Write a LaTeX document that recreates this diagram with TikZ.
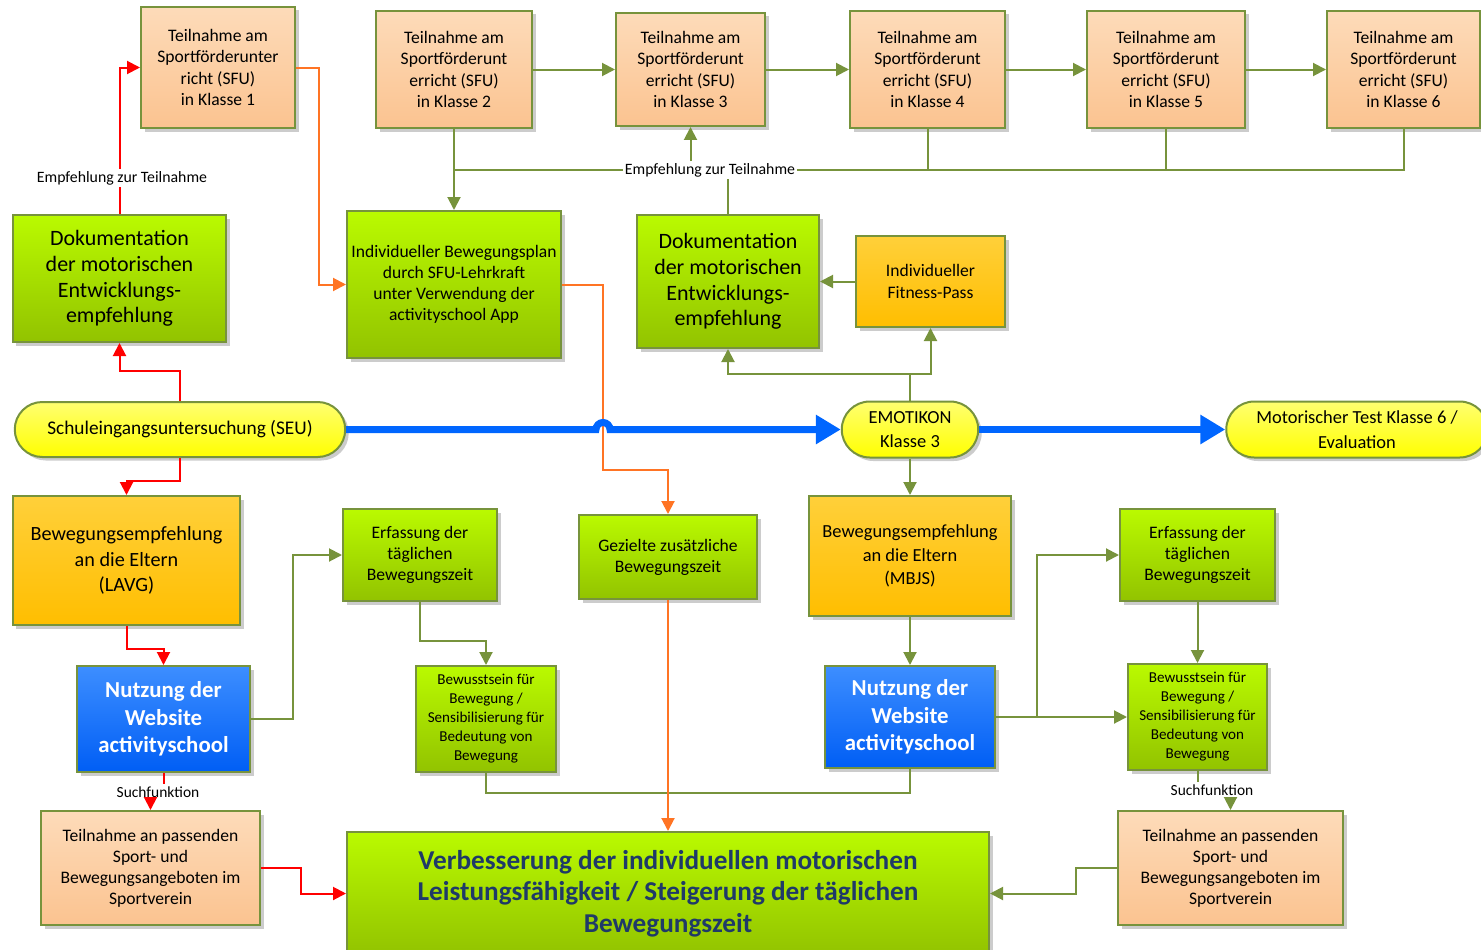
\documentclass[tikz,border=0pt]{standalone}
\usepackage{fontspec}
\setmainfont{Carlito}
\usetikzlibrary{arrows.meta, positioning, shapes.misc, shadows, calc}

\definecolor{lineGreen}{HTML}{77933C}
\definecolor{peachTop}{HTML}{FDDBB9}
\definecolor{peachBot}{HTML}{FBC390}
\definecolor{greenTop}{HTML}{BAFA00}
\definecolor{greenBot}{HTML}{92C300}
\definecolor{orangeTop}{HTML}{FFD03A}
\definecolor{orangeBot}{HTML}{FFBE00}
\definecolor{blueTop}{HTML}{3D8EFF}
\definecolor{blueBot}{HTML}{005EF5}
\definecolor{yellowTop}{HTML}{FFFF70}
\definecolor{yellowBot}{HTML}{FFFF00}
\definecolor{lineRed}{HTML}{FF0000}
\definecolor{lineOrange}{HTML}{FF7424}
\definecolor{lineBlue}{HTML}{0066FF}
\definecolor{verbText}{HTML}{1F3A68}

\begin{document}
\begin{tikzpicture}[
    x=0.02cm, y=-0.02cm,
    wh/.style 2 args={minimum width=#1*0.02cm, minimum height=#2*0.02cm},
    box/.style={rectangle, draw=lineGreen, line width=0.04cm, align=center, inner sep=1pt,
                drop shadow={shadow xshift=0.07cm, shadow yshift=-0.07cm, fill=black, opacity=0.2}},
    sfu/.style={box, top color=peachTop, bottom color=peachBot, font=\fontsize{10}{12}\selectfont},
    act/.style={box, top color=greenTop, bottom color=greenBot, font=\fontsize{10}{12}\selectfont},
    actbig/.style={act, font=\fontsize{12.5}{14.6}\selectfont},
    rec/.style={box, top color=orangeTop, bottom color=orangeBot, font=\fontsize{10}{12}\selectfont},
    web/.style={box, top color=blueTop, bottom color=blueBot, text=white,
                font=\bfseries\fontsize{13}{15.6}\selectfont},
    pill/.style={rounded rectangle, draw=lineGreen, line width=0.04cm, align=center, inner sep=1pt,
                 top color=yellowTop, bottom color=yellowBot, font=\fontsize{11}{14}\selectfont,
                 drop shadow={shadow xshift=0.07cm, shadow yshift=-0.07cm, fill=black, opacity=0.2}},
    lbl/.style={fill=white, inner sep=1pt, font=\fontsize{9}{10.5}\selectfont},
    gline/.style={draw=lineGreen, line width=0.04cm},
    garr/.style={gline, -{Triangle[length=2.6mm, width=2.6mm]}},
    rline/.style={draw=lineRed, line width=0.04cm},
    rarr/.style={rline, -{Triangle[length=2.6mm, width=2.6mm]}},
    oarr/.style={draw=lineOrange, line width=0.04cm, -{Triangle[length=2.6mm, width=2.6mm]}},
    barr/.style={draw=lineBlue, line width=0.14cm, -{Triangle[length=5mm, width=5.6mm]}},
]
\useasboundingbox (0,0) rectangle (1481,950);

% SFU row
\node[sfu, wh={154}{121}] (k1) at (218,67.5) {Teilnahme am\\Sportförderunter\\richt (SFU)\\in Klasse 1};
\node[sfu, wh={156}{117}] (k2) at (454,69.5) {Teilnahme am\\Sportförderunt\\erricht (SFU)\\in Klasse 2};
\node[sfu, wh={149}{113}] (k3) at (690.5,69.5) {Teilnahme am\\Sportförderunt\\erricht (SFU)\\in Klasse 3};
\node[sfu, wh={155}{117}] (k4) at (927.5,69.5) {Teilnahme am\\Sportförderunt\\erricht (SFU)\\in Klasse 4};
\node[sfu, wh={158}{117}] (k5) at (1166,69.5) {Teilnahme am\\Sportförderunt\\erricht (SFU)\\in Klasse 5};
\node[sfu, wh={153}{117}] (k6) at (1403.5,69.5) {Teilnahme am\\Sportförderunt\\erricht (SFU)\\in Klasse 6};

% Upper middle
\node[actbig, wh={213}{127}] (doku1) at (119.5,278.5) {Dokumentation\\der motorischen\\Entwicklungs-\\empfehlung};
\node[act, wh={214}{147}] (plan) at (454,284.5) {Individueller Bewegungsplan\\durch SFU-Lehrkraft\\unter Verwendung der\\activityschool App};
\node[actbig, wh={182}{133}] (doku2) at (728,281.5) {Dokumentation\\der motorischen\\Entwicklungs-\\empfehlung};
\node[rec, wh={149}{91}] (fit) at (930.5,281.5) {Individueller\\Fitness-Pass};

% Timeline
\node[pill, wh={334}{55}] (seu) at (180,429.5) {Schuleingangsuntersuchung (SEU)};
\node[pill, wh={140}{56}, font=\fontsize{10.5}{14}\selectfont] (emo) at (910,429.5) {EMOTIKON\\Klasse 3};
\node[pill, wh={265}{56}, font=\fontsize{10.5}{14}\selectfont] (mot) at (1357,429.5) {Motorischer Test Klasse 6 /\\Evaluation};

% Lower part
\node[rec, wh={227}{129}, font=\fontsize{11.5}{14.5}\selectfont] (lavg) at (126.5,560.5) {Bewegungsempfehlung\\an die Eltern\\(LAVG)};
\node[act, wh={154}{92}] (erf1) at (420,555) {Erfassung der\\täglichen\\Bewegungszeit};
\node[act, wh={178}{84}] (gez) at (668,557) {Gezielte zusätzliche\\Bewegungszeit};
\node[rec, wh={202}{120}, font=\fontsize{10.5}{13.3}\selectfont] (mbjs) at (910,556) {Bewegungsempfehlung\\an die Eltern\\(MBJS)};
\node[act, wh={155}{92}] (erf2) at (1197.5,555) {Erfassung der\\täglichen\\Bewegungszeit};

\node[web, wh={173}{106}] (web1) at (163.5,719) {Nutzung der\\Website\\activityschool};
\node[act, wh={140}{106}, font=\fontsize{8.6}{10.8}\selectfont] (bew1) at (486,719) {Bewusstsein für\\Bewegung /\\Sensibilisierung für\\Bedeutung von\\Bewegung};
\node[web, wh={170}{102}] (web2) at (910,717) {Nutzung der\\Website\\activityschool};
\node[act, wh={139}{106}, font=\fontsize{8.6}{10.8}\selectfont] (bew2) at (1197.5,717) {Bewusstsein für\\Bewegung /\\Sensibilisierung für\\Bedeutung von\\Bewegung};

\node[sfu, wh={219}{114}] (sv1) at (150.5,868) {Teilnahme an passenden\\Sport- und\\Bewegungsangeboten im\\Sportverein};
\node[sfu, wh={225}{114}] (sv2) at (1230.5,868) {Teilnahme an passenden\\Sport- und\\Bewegungsangeboten im\\Sportverein};
\node[act, wh={642}{123}, text=verbText, font=\bfseries\fontsize{15.5}{17.9}\selectfont] (verb) at (668,893.5)
    {Verbesserung der individuellen motorischen\\Leistungsfähigkeit / Steigerung der täglichen\\Bewegungszeit};

% Labels
\node[lbl] (emp1) at (122,178) {Empfehlung zur Teilnahme};
\node[lbl] (emp2) at (710,170) {Empfehlung zur Teilnahme};
\node[lbl, font=\fontsize{8.8}{10}\selectfont] (such1) at (158,792) {Suchfunktion};
\node[lbl, font=\fontsize{8.8}{10}\selectfont] (such2) at (1212,790) {Suchfunktion};

% SFU chain
\foreach \a/\b in {k2/k3, k3/k4, k4/k5, k5/k6}
    \draw[garr] (\a) -- (\b);
\draw[rarr] (doku1.north) |- (k1.west);
\node[lbl] at (emp1) {Empfehlung zur Teilnahme};
\draw[oarr] (k1.east) -- ++(23,0) |- (plan.west);

% Recommendation bus
\draw[gline] (k2.south) |- (k6.south |- emp2) -- (k6.south);
\foreach \k in {k4, k5}
    \draw[gline] (\k.south) -- (\k.south |- emp2);
\node[lbl] at (emp2) {Empfehlung zur Teilnahme};
\draw[garr] (k2.south |- emp2) -- (plan.north);
\draw[garr] (emp2.north -| k3.south) -- (k3.south);
\draw[gline] (doku2.north) -- (emp2.south -| doku2.north);

% SEU branch
\draw[rarr] (seu.north) -- ++(0,-30) -| (doku1.south);
\draw[rarr] (seu.south) -- ++(0,23) -| (lavg.north);
\draw[rarr] (lavg.south) -- ++(0,23) -| (web1.north);
\draw[garr] (web1.east) -- ++(42,0) |- (erf1.west);
\draw[garr] (erf1.south) -- ++(0,39) -| (bew1.north);
\draw[gline] (bew1.south) -- ++(0,20) -| (web2.south);
\draw[rline] (web1.south) -- (web1.south |- such1.north);
\draw[rarr] (sv1.north |- such1.south) -- (sv1.north);
\draw[rarr] (sv1.east) -- ++(40,0) |- (verb.west);

% Bewegungsplan
\coordinate (ocross) at (603,429.5);
\draw[oarr] (plan.east) -| (ocross) -- ++(0,40) -| (gez.north);
\draw[oarr] (gez.south) -- (verb.north);

% Timeline arrows
\coordinate (hopL) at (596,429.5);
\draw[barr] (seu.east) -- (hopL) arc[start angle=180, end angle=0, radius=0.14cm] -- (emo.west);
\draw[barr] (emo.east) -- (mot.west);

% EMOTIKON branch
\draw[garr] (emo.north) -- ++(0,-27) coordinate (ej) -| (doku2.south);
\draw[garr] (ej) -| (fit.south);
\draw[garr] (fit.west) -- (doku2.east);
\draw[garr] (emo.south) -- (mbjs.north);
\draw[garr] (mbjs.south) -- (web2.north);
\draw[garr] (web2.east) -- ++(41,0) coordinate (wj) |- (erf2.west);
\draw[garr] (web2.east) -- (bew2.west);
\draw[garr] (erf2.south) -- (bew2.north);
\draw[gline] (bew2.south) -- (bew2.south |- such2.north);
\draw[garr] (sv2.north |- such2.south) -- (sv2.north);
\draw[garr] (sv2.west) -- ++(-41,0) |- (verb.east);

\end{tikzpicture}
\end{document}
